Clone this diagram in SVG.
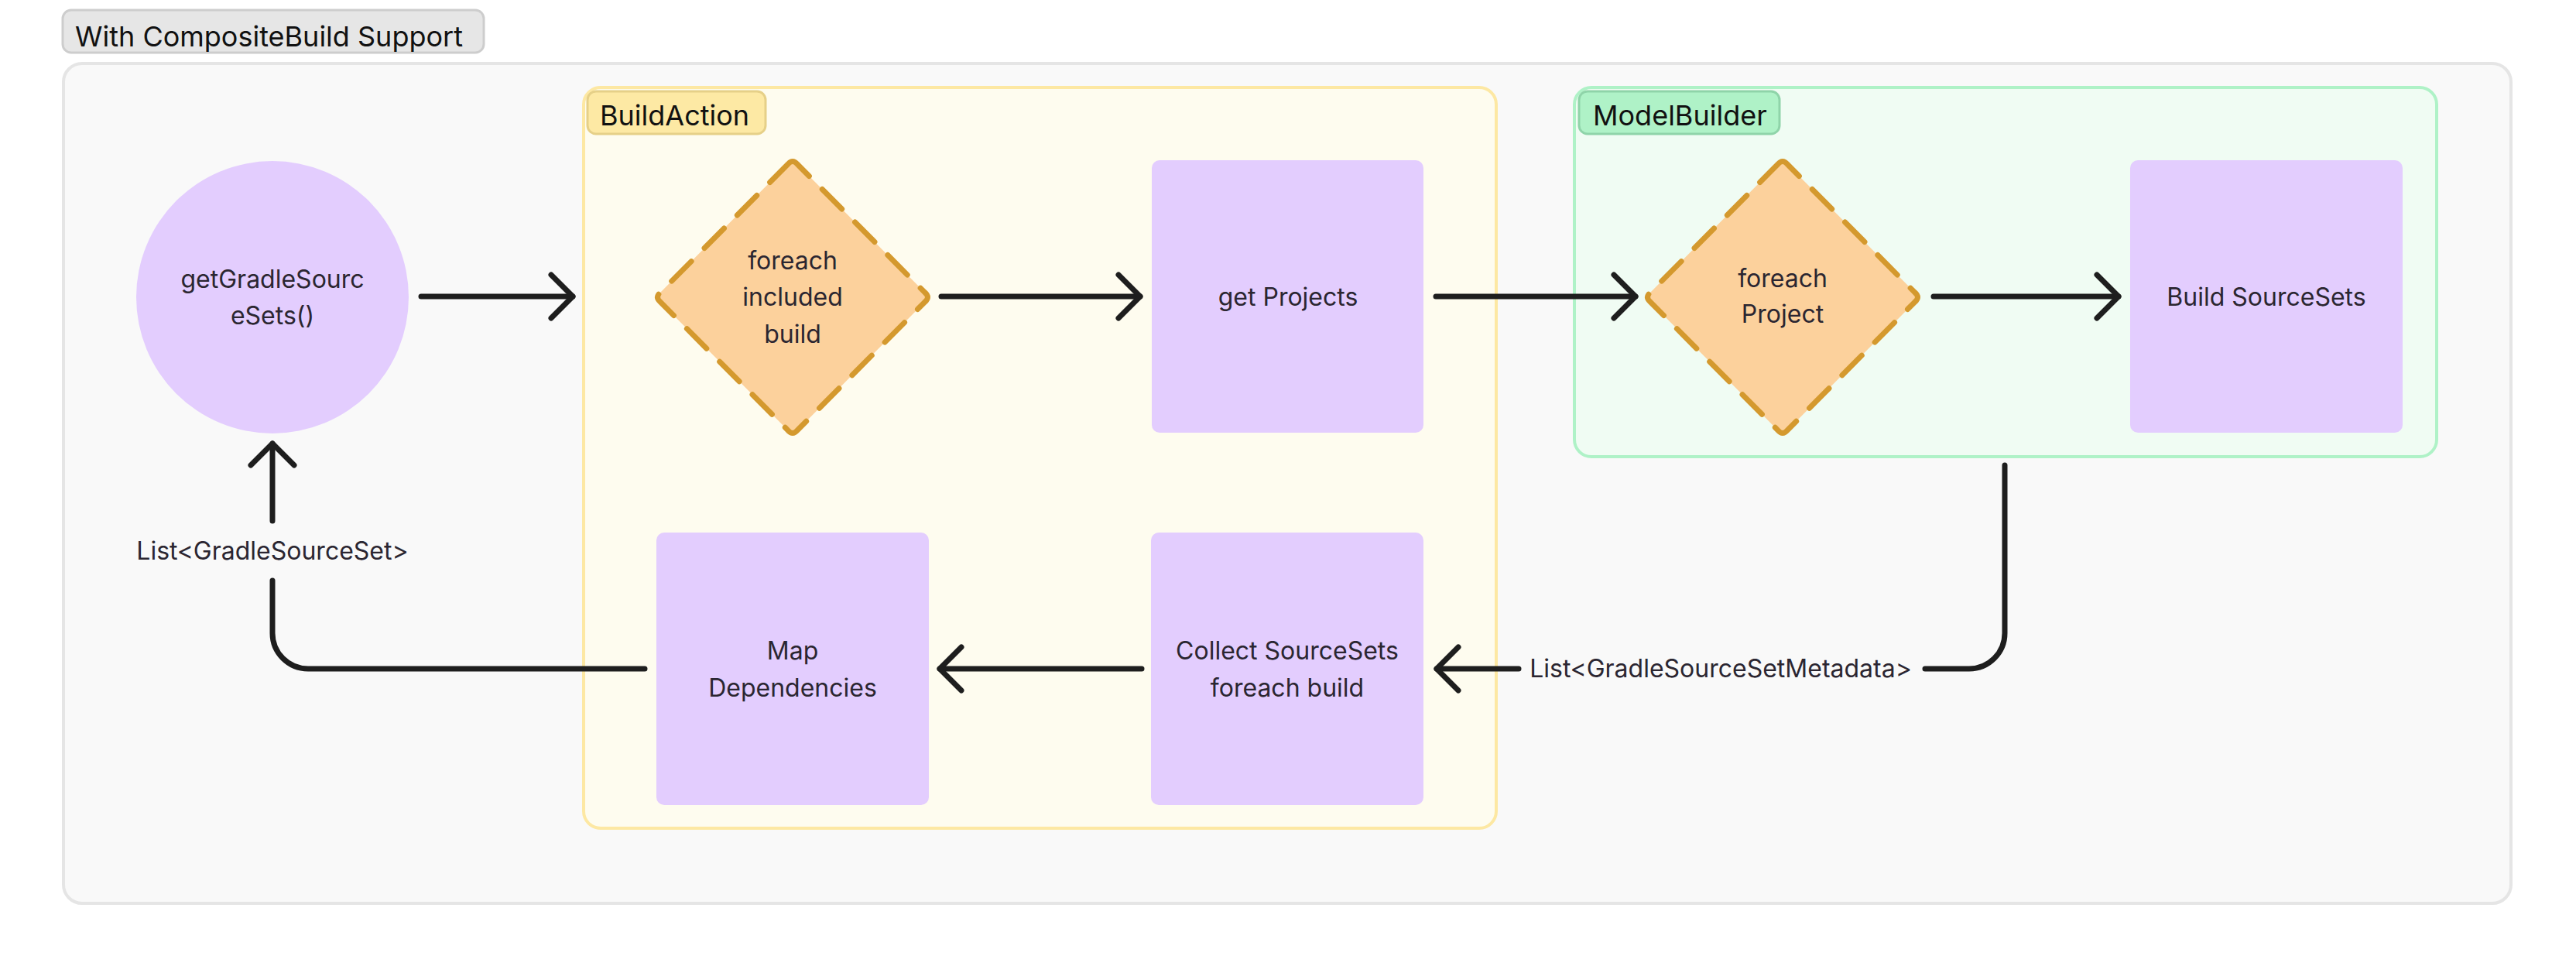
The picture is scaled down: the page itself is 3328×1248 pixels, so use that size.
<svg xmlns="http://www.w3.org/2000/svg" width="3328" height="1248" viewBox="0 0 3328 1248">
  <defs>
    <style>
      .t { font-family: Inter, "Liberation Sans", Arial, sans-serif; font-size: 32px; fill: #2b2631; text-anchor: middle; }
      .tag { font-family: Inter, "Liberation Sans", Arial, sans-serif; font-size: 36px; fill: #111111; }
      .proc { fill: #e3cdfe; }
      .dia { fill: #fcd19c; stroke: #d4992e; stroke-width: 7; stroke-dasharray: 36 24; stroke-linecap: round; stroke-linejoin: round; }
      .edge { fill: none; stroke: #1e1e1e; stroke-width: 7; stroke-linecap: round; stroke-linejoin: round; }
    </style>
    <marker id="arrow" markerUnits="userSpaceOnUse" viewBox="-40 -40 50 80" refX="0" refY="0" markerWidth="50" markerHeight="80" orient="auto">
      <path d="M -28 -28 L 0 0 L -28 28" fill="none" stroke="#1e1e1e" stroke-width="7" stroke-linecap="round" stroke-linejoin="round"/>
    </marker>
  </defs>

  <rect width="3328" height="1248" fill="#ffffff"/>

  <g id="title">
    <rect x="81" y="13" width="544" height="55" rx="11" fill="#e6e6e6" stroke="#cdcdcd" stroke-width="3"/>
    <text class="tag" x="97" y="60">With CompositeBuild Support</text>
  </g>

  <g id="frame">
    <rect x="82" y="82" width="3162" height="1085" rx="24" fill="#f9f9f9" stroke="#e5e5e5" stroke-width="4"/>
  </g>

  <g id="buildaction">
    <rect x="754" y="113" width="1179" height="957" rx="22" fill="#fefcef" stroke="#fde8a3" stroke-width="4"/>
    <rect x="759" y="118" width="230" height="55" rx="11" fill="#fde9a4" stroke="#e6d088" stroke-width="3"/>
    <text class="tag" x="775" y="162">BuildAction</text>
  </g>

  <g id="modelbuilder">
    <rect x="2034" y="113" width="1114" height="477" rx="22" fill="#f0fcf3" stroke="#aff2c7" stroke-width="4"/>
    <rect x="2040" y="118" width="259" height="55" rx="11" fill="#aff2c7" stroke="#8fd4a9" stroke-width="3"/>
    <text class="tag" x="2058" y="162">ModelBuilder</text>
  </g>

  <g id="getGradleSourceSets">
    <circle class="proc" cx="352" cy="384" r="176"/>
    <text class="t" x="352" y="372">getGradleSourc</text>
    <text class="t" x="352" y="419">eSets()</text>
  </g>

  <g id="foreachIncludedBuild">
    <path class="dia" d="M 1018 212 Q 1024 205 1030 212 L 1195 378 Q 1202 384 1195 390 L 1030 556 Q 1024 563 1018 556 L 853 390 Q 846 384 853 378 Z"/>
    <text class="t" x="1024" y="348">foreach</text>
    <text class="t" x="1024" y="395">included</text>
    <text class="t" x="1024" y="443">build</text>
  </g>

  <g id="getProjects">
    <rect class="proc" x="1488" y="207" width="351" height="352" rx="10"/>
    <text class="t" x="1664" y="395">get Projects</text>
  </g>

  <g id="foreachProject">
    <path class="dia" d="M 2297 212 Q 2303 205 2309 212 L 2474 378 Q 2481 384 2474 390 L 2309 556 Q 2303 563 2297 556 L 2132 390 Q 2125 384 2132 378 Z"/>
    <text class="t" x="2303" y="371">foreach</text>
    <text class="t" x="2303" y="417">Project</text>
  </g>

  <g id="buildSourceSets">
    <rect class="proc" x="2752" y="207" width="352" height="352" rx="10"/>
    <text class="t" x="2928" y="395">Build SourceSets</text>
  </g>

  <g id="collectSourceSets">
    <rect class="proc" x="1487" y="688" width="352" height="352" rx="10"/>
    <text class="t" x="1663" y="852">Collect SourceSets</text>
    <text class="t" x="1663" y="900">foreach build</text>
  </g>

  <g id="mapDependencies">
    <rect class="proc" x="848" y="688" width="352" height="352" rx="10"/>
    <text class="t" x="1024" y="852">Map</text>
    <text class="t" x="1024" y="900">Dependencies</text>
  </g>

  <g id="connectors">
    <path class="edge" d="M 544 383 L 740 383" marker-end="url(#arrow)"/>
    <path class="edge" d="M 1216 383 L 1473 383" marker-end="url(#arrow)"/>
    <path class="edge" d="M 1855 383 L 2113 383" marker-end="url(#arrow)"/>
    <path class="edge" d="M 2498 383 L 2737 383" marker-end="url(#arrow)"/>
    <path class="edge" d="M 1475 864 L 1214 864" marker-end="url(#arrow)"/>
    <path class="edge" d="M 833 864 L 398 864 A 46 46 0 0 1 352 818 L 352 750"/>
    <path class="edge" d="M 352 673 L 352 573" marker-end="url(#arrow)"/>
    <text class="t" x="352" y="723">List&lt;GradleSourceSet&gt;</text>
    <path class="edge" d="M 2590 601 L 2590 818 A 46 46 0 0 1 2544 864 L 2487 864"/>
    <path class="edge" d="M 1962 864 L 1856 864" marker-end="url(#arrow)"/>
    <text class="t" x="2223" y="875">List&lt;GradleSourceSetMetadata&gt;</text>
  </g>
</svg>
